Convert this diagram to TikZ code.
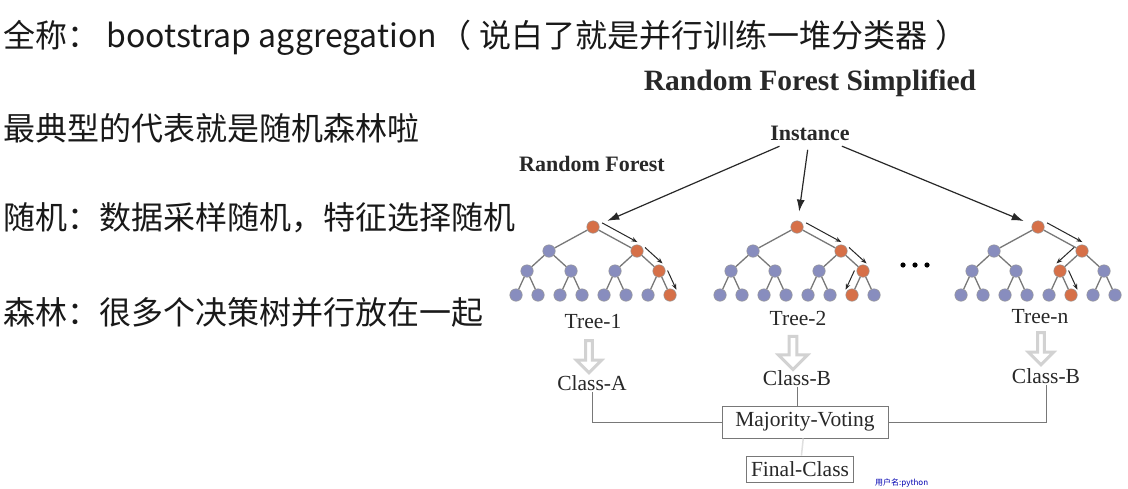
\documentclass[tikz,border=0pt]{standalone}
\usepackage{fontspec}
\setmainfont{Liberation Serif}
\newfontfamily\cjk{Noto Sans CJK SC}
\usepackage{tikz}
\usetikzlibrary{shapes,shapes.arrows,arrows,arrows.meta,calc}

\definecolor{coldc}{RGB}{136,141,190}
\definecolor{hotc}{RGB}{214,112,72}
\definecolor{inkc}{RGB}{40,40,40}
\definecolor{linec}{RGB}{120,120,120}

\tikzstyle{cntext}=[anchor=west, inner sep=0pt, text=black!90, font=\cjk\fontsize{32}{38}\selectfont]
\tikzstyle{treenode}=[circle, draw=gray!80, line width=0.5pt, minimum size=12.5pt, inner sep=0pt]
\tikzstyle{treeedge}=[draw=linec, line width=1.3pt]
\tikzstyle{trailarrow}=[draw=inkc, line width=1pt, -{Stealth[length=6pt,width=4.5pt]}]
\tikzstyle{instarrow}=[draw=inkc, line width=1.2pt, shorten <=6pt, shorten >=9pt, -{Latex[length=12pt,width=8pt]}]
\tikzstyle{label}=[text=inkc, font=\fontsize{21.5}{24}\selectfont, inner sep=1pt]
\tikzstyle{hollow}=[single arrow, draw=gray!35, fill=white, line width=3pt, shape border rotate=270,
  minimum height=32pt, minimum width=25pt, single arrow head extend=4pt, inner sep=0pt]
\tikzstyle{votebox}=[draw=linec, line width=1pt, label, inner sep=3pt]

% one tree: centre x, name, hot node on level 1, 2, 3
\newcommand{\rftree}[5]{%
  \node[treenode, fill=hotc] (#2-0) at (#1,227) {};
  \foreach \i in {1,2}{
    \ifnum\i=#3 \def\col{hotc}\else\def\col{coldc}\fi
    \node[treenode, fill=\col] (#2-1-\i) at ({#1+(\i-1.5)*88},251) {};
    \draw[treeedge] (#2-0) -- (#2-1-\i);
  }
  \foreach \j in {1,...,4}{
    \ifnum\j=#4 \def\col{hotc}\else\def\col{coldc}\fi
    \pgfmathtruncatemacro\p{(\j+1)/2}
    \node[treenode, fill=\col] (#2-2-\j) at ({#1+(\j-2.5)*44},271) {};
    \draw[treeedge] (#2-1-\p) -- (#2-2-\j);
  }
  \foreach \k in {1,...,8}{
    \ifnum\k=#5 \def\col{hotc}\else\def\col{coldc}\fi
    \pgfmathtruncatemacro\p{(\k+1)/2}
    \node[treenode, fill=\col] (#2-3-\k) at ({#1+(\k-4.5)*22},295) {};
    \draw[treeedge] (#2-2-\p) -- (#2-3-\k);
  }
}
% arrow along a tree edge, on side #3
\newcommand{\trail}[3]{%
  \draw[trailarrow] ($(#1)!0.12!(#2)!8pt!#3:(#2)$) -- ($(#1)!0.92!(#2)!8pt!#3:(#2)$);
}

\begin{document}
\begin{tikzpicture}[x=1pt,y=-1pt]
\useasboundingbox[fill=white] (0,0) rectangle (1128,488);

% left text
\node[cntext] (full) at (3,38) {全称： bootstrap aggregation\hspace{2pt}（\hspace{8pt}说白了就是并行训练一堆分类器\hspace{8pt}）};
\node[cntext] (typical) at (3,128) {最典型的代表就是随机森林啦};
\node[cntext] (rand) at (3,218) {随机：数据采样随机，特征选择随机};
\node[cntext] (forest) at (3,312) {森林：很多个决策树并行放在一起};

% titles
\node[text=inkc, font=\bfseries\fontsize{29.5}{34}\selectfont] (title) at (810,83) {Random Forest Simplified};
\node[text=inkc, font=\bfseries\fontsize{22}{26}\selectfont] (inst) at (810,133) {Instance};
\node[text=inkc, font=\bfseries\fontsize{22}{26}\selectfont] (rf) at (592,164) {Random Forest};

% trees
\rftree{593}{t1}{2}{4}{8}
\rftree{797}{t2}{2}{4}{7}
\rftree{1038}{tn}{2}{3}{6}

\trail{t1-0}{t1-1-2}{90}
\trail{t1-1-2}{t1-2-4}{90}
\trail{t1-2-4}{t1-3-8}{90}
\trail{t2-0}{t2-1-2}{90}
\trail{t2-1-2}{t2-2-4}{90}
\trail{t2-2-4}{t2-3-7}{-90}
\trail{tn-0}{tn-1-2}{90}
\trail{tn-1-2}{tn-2-3}{-90}
\trail{tn-2-3}{tn-3-6}{90}

\foreach \d in {0,1,2} \fill[black] (903+12*\d,265) circle (2.6);

\draw[instarrow] (inst) -- (t1-0);
\draw[instarrow] (inst) -- (t2-0);
\draw[instarrow] (inst) -- (tn-0);

% tree names and classes
\node[label] (tree1) at (593,322) {Tree-1};
\node[label] (tree2) at (798,318) {Tree-2};
\node[label] (treen) at (1040,317) {Tree-n};

\node[hollow] (down1) at (589,355) {};
\node[hollow, minimum width=29pt, minimum height=33pt] (down2) at (793,351) {};
\node[hollow] (downn) at (1041,347) {};

\node[label] (classA) at (592,383) {Class-A};
\node[label] (classB) at (797,378) {Class-B};
\node[label] (classBn) at (1046,376) {Class-B};

\node[votebox, minimum width=166pt, minimum height=32pt] (vote) at (805,422) {Majority-Voting};
\node[votebox, minimum width=107pt, minimum height=26pt] (final) at (800,469) {Final-Class};

\draw[linec, line width=1pt] (classA) |- (vote);
\draw[linec, line width=1pt] (classB) -- (classB |- vote.north);
\draw[linec, line width=1pt] (classBn) |- (vote);
\draw[gray!25, line width=1.5pt] (vote) -- (final);

\node[anchor=south west, inner sep=0pt, text=blue!70!black, font=\cjk\fontsize{8}{9}\selectfont] (mark) at (875,488) {用户名:python};
\end{tikzpicture}
\end{document}
